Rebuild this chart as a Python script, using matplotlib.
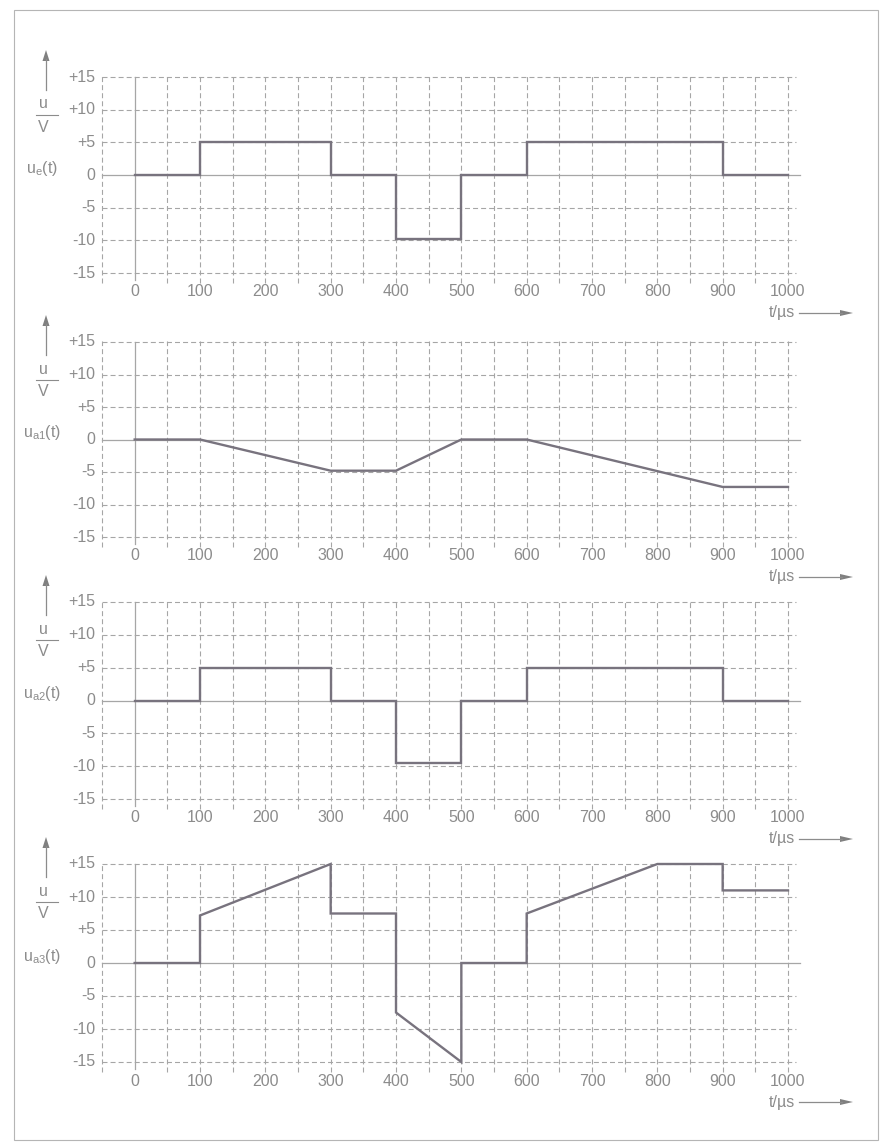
import numpy as np
import matplotlib
matplotlib.use('Agg')
import matplotlib.pyplot as plt
from matplotlib.patches import Rectangle

plt.rcParams['font.family'] = ['Liberation Sans', 'DejaVu Sans']
plt.rcParams['mathtext.fontset'] = 'custom'
plt.rcParams['mathtext.rm'] = 'Liberation Sans'
plt.rcParams['mathtext.it'] = 'Liberation Sans'
plt.rcParams['lines.scale_dashes'] = False

# signal data (time in us, voltage in V)
t_e = [0, 100, 100, 300, 300, 400, 400, 500, 500, 600, 600, 900, 900, 1000]
u_e = [0, 0, 5, 5, 0, 0, -9.8, -9.8, 0, 0, 5, 5, 0, 0]

t_a1 = [0, 100, 300, 400, 500, 600, 900, 1000]
u_a1 = [0, 0, -4.8, -4.8, 0, 0, -7.3, -7.3]

t_a2 = [0, 100, 100, 300, 300, 400, 400, 500, 500, 600, 600, 900, 900, 1000]
u_a2 = [0, 0, 5, 5, 0, 0, -9.5, -9.5, 0, 0, 5, 5, 0, 0]

t_a3 = [0, 100, 100, 300, 300, 400, 400, 500, 500, 600, 600, 800, 900, 900, 1000]
u_a3 = [0, 0, 7.2, 15, 7.5, 7.5, -7.5, -15, 0, 0, 7.5, 15, 15, 11, 11]

signals = [(t_e, u_e, r'u$_{\mathrm{e}}$(t)'),
           (t_a1, u_a1, r'u$_{\mathrm{a1}}$(t)'),
           (t_a2, u_a2, r'u$_{\mathrm{a2}}$(t)'),
           (t_a3, u_a3, r'u$_{\mathrm{a3}}$(t)')]

x_ticks = [0, 100, 200, 300, 400, 500, 600, 700, 800, 900, 1000]
y_ticks = [15, 10, 5, 0, -5, -10, -15]
y_ticklabels = ['+15', '+10', '+5', '0', '-5', '-10', '-15']

W, H = 881, 1143
fig = plt.figure(figsize=(W / 100, H / 100), dpi=100)

grid_c = '#a6a6a6'
text_c = '#8c8c8c'
sig_c = '#78737e'
fs = 11.5

def fx(px):
    return px / W

def fy(py):
    return 1 - py / H

# page frame of the scan
fig.patches.append(Rectangle((fx(14), fy(1140)), fx(878) - fx(14), fy(10) - fy(1140),
                             transform=fig.transFigure, fill=False,
                             edgecolor='#b5b5b5', lw=0.8))

tops = [77, 342, 602, 864]
bottoms = [273, 537, 799, 1062]
left_px, right_px = 102, 788

for (t, u, lab), top, bot in zip(signals, tops, bottoms):
    ax = fig.add_axes([fx(left_px), fy(bot), fx(right_px) - fx(left_px), fy(top) - fy(bot)])
    ax.set_xlim(-50, 1000)
    ax.set_ylim(-15, 15)
    ax.axis('off')
    sx = (right_px - left_px) / 1050.0   # px per us
    sy = (bot - top) / 30.0             # px per V

    # dashed grid
    for xv in np.arange(-50, 1001, 50):
        if xv == 0:
            continue
        ax.plot([xv, xv], [-16.5, 15.2], color=grid_c, lw=0.8,
                dashes=(3.6, 2.2), clip_on=False)
    for yv in [15, 10, 5, -5, -10, -15]:
        ax.plot([-50, 1013], [yv, yv], color=grid_c, lw=0.8,
                dashes=(3.6, 2.2), clip_on=False)
    ax.plot([-50, 1018], [0, 0], color=grid_c, lw=0.9, clip_on=False)
    ax.plot([0, 0], [-16.0, 15], color=grid_c, lw=0.9, clip_on=False)

    # signal
    ax.plot(t, u, color=sig_c, lw=1.7, clip_on=False, solid_joinstyle='miter')

    # tick labels
    for yv, yl in zip(y_ticks, y_ticklabels):
        ax.text(-50 - 7 / sx, yv, yl, ha='right', va='center',
                fontsize=fs, color=text_c)
    for xv in x_ticks:
        ax.text(xv, -15 - 19 / sy, str(xv), ha='center', va='center',
                fontsize=fs, color=text_c)

    # y axis arrow and u/V fraction
    fig.add_artist(plt.Line2D([fx(46), fx(46)], [fy(top + 13), fy(top - 18)],
                              transform=fig.transFigure, color=text_c, lw=0.9))
    fig.patches.append(plt.Polygon([[fx(46), fy(top - 27)], [fx(42.5), fy(top - 16)],
                                    [fx(49.5), fy(top - 16)]],
                                   closed=True, transform=fig.transFigure,
                                   facecolor='#808080', edgecolor='none'))
    fig.text(fx(43), fy(top + 27), 'u', ha='center', va='center',
             fontsize=fs, color=text_c)
    fig.add_artist(plt.Line2D([fx(36), fx(58)], [fy(top + 38), fy(top + 38)],
                              transform=fig.transFigure, color=text_c, lw=0.8))
    fig.text(fx(43), fy(top + 50), 'V', ha='center', va='center',
             fontsize=fs, color=text_c)
    zero_px = (top + bot) / 2
    fig.text(fx(42), fy(zero_px - 7), lab, ha='center', va='center',
             fontsize=fs, color=text_c)

    # time axis label with arrow
    fig.text(fx(795), fy(bot + 40), 't/µs', ha='right', va='center',
             fontsize=fs, color=text_c)
    fig.add_artist(plt.Line2D([fx(799), fx(842)], [fy(bot + 40), fy(bot + 40)],
                              transform=fig.transFigure, color=text_c, lw=0.9))
    fig.patches.append(plt.Polygon([[fx(853), fy(bot + 40)], [fx(840), fy(bot + 37)],
                                    [fx(840), fy(bot + 43)]],
                                   closed=True, transform=fig.transFigure,
                                   facecolor='#808080', edgecolor='none'))

fig.savefig('out.png', dpi=100)
